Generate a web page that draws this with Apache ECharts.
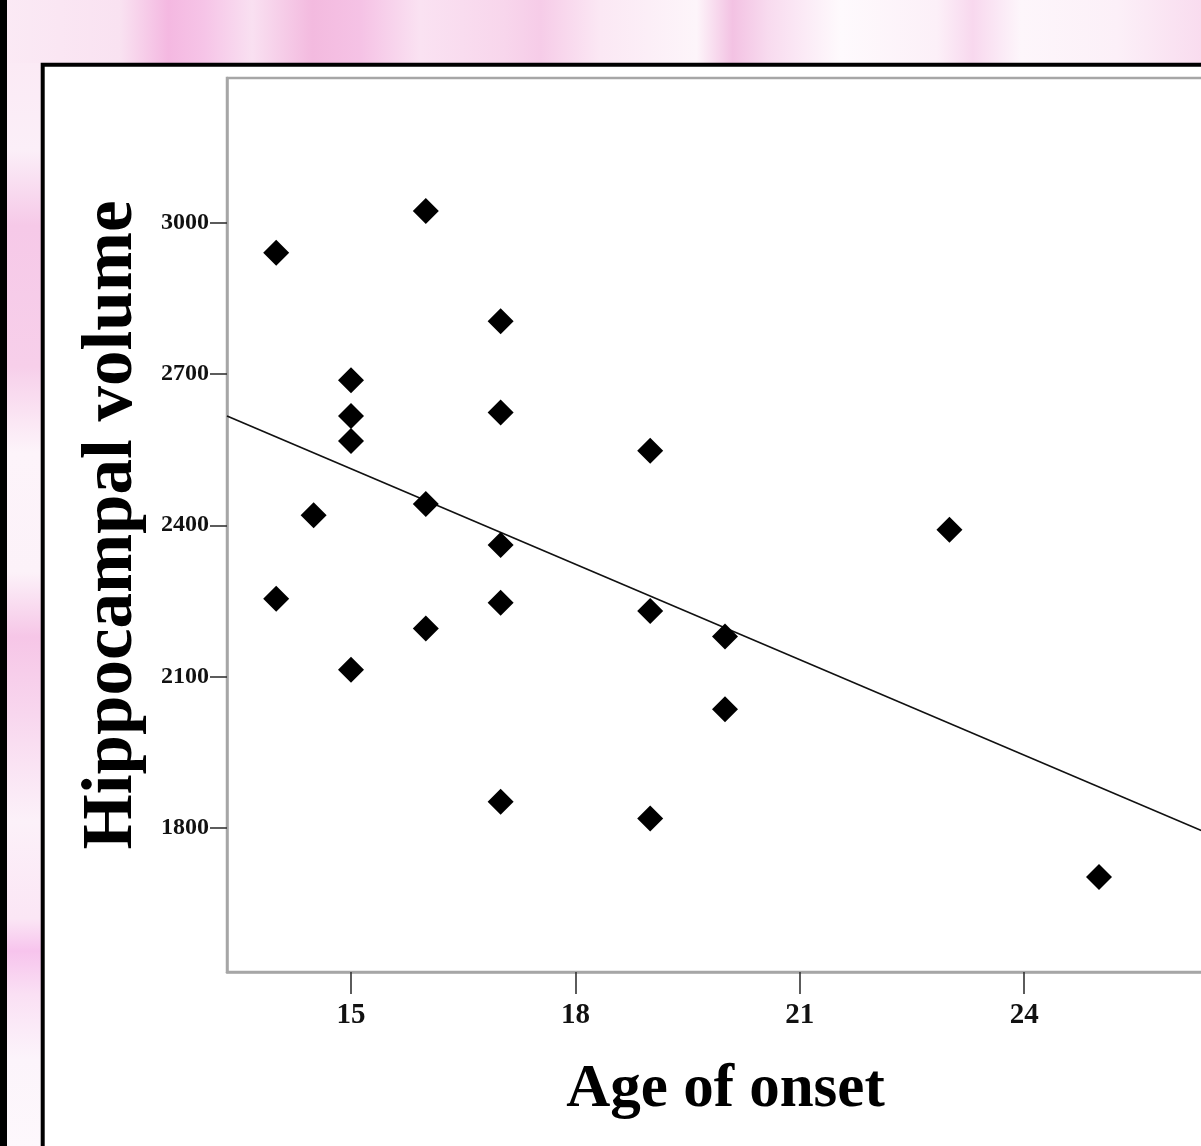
<!DOCTYPE html>
<html>
<head>
<meta charset="utf-8">
<script src="https://cdn.jsdelivr.net/npm/echarts@6/dist/echarts.min.js"></script>
<style>
  html, body { margin: 0; padding: 0; background: #fff; }
  #chart { width: 1201px; height: 1146px; }
</style>
</head>
<body>
<div id="chart"></div>
<script>
// ---- data ----
const ageOnset = [14, 16, 17, 15, 15, 15, 17, 19, 14.5, 16, 17, 23, 14, 17, 16, 19, 20, 15, 20, 17, 19, 25];
const hippoVolume = [2941, 3024, 2805, 2688, 2617, 2567, 2624, 2548, 2420, 2442, 2361, 2391, 2254, 2246, 2195, 2230, 2179, 2113, 2035, 1851, 1818, 1702];
// fitted regression line (end points at the axis limits)
const fitX = [13.342, 26.671];
const fitY = [2617, 1775];
// axis ticks
const xTicks = [15, 18, 21, 24];
const yTicks = [1800, 2100, 2400, 2700, 3000];
const xRange = [13.342, 26.671];
const yRange = [1513.2, 3287.8];
const xTitle = 'Age of onset';
const yTitle = 'Hippocampal volume';

const points = ageOnset.map((a, i) => [a, hippoVolume[i]]);
const fitLine = fitX.map((x, i) => [x, fitY[i]]);

const serif = '"Liberation Serif", "Times New Roman", serif';
const chart = echarts.init(document.getElementById('chart'), null, { renderer: 'canvas' });

const pinkBand = {
  type: 'linear', x: 0, y: 0, x2: 1, y2: 0,
  colorStops: [
    { offset: 0.00, color: '#fbeaf5' },
    { offset: 0.10, color: '#f9e2f1' },
    { offset: 0.14, color: '#f4b8e1' },
    { offset: 0.17, color: '#f6c4e7' },
    { offset: 0.21, color: '#f9e0f1' },
    { offset: 0.26, color: '#f3badf' },
    { offset: 0.30, color: '#f5c2e5' },
    { offset: 0.35, color: '#fae2f2' },
    { offset: 0.42, color: '#f8d6ec' },
    { offset: 0.45, color: '#f6cce8' },
    { offset: 0.50, color: '#fbe8f4' },
    { offset: 0.58, color: '#fdf5fa' },
    { offset: 0.61, color: '#f3c2e3' },
    { offset: 0.64, color: '#f8dbef' },
    { offset: 0.70, color: '#fefafd' },
    { offset: 0.78, color: '#fcf0f8' },
    { offset: 0.81, color: '#f8d8ee' },
    { offset: 0.85, color: '#fdf6fb' },
    { offset: 0.93, color: '#fcf0f8' },
    { offset: 1.00, color: '#f9dcef' }
  ]
};
const pinkStrip = {
  type: 'linear', x: 0, y: 0, x2: 0, y2: 1,
  colorStops: [
    { offset: 0.00, color: '#fbeaf5' },
    { offset: 0.08, color: '#fbeff8' },
    { offset: 0.15, color: '#f6c9e8' },
    { offset: 0.28, color: '#f7cfea' },
    { offset: 0.36, color: '#fdf4fa' },
    { offset: 0.47, color: '#fcf2f9' },
    { offset: 0.53, color: '#f6c6e7' },
    { offset: 0.60, color: '#f8d6ee' },
    { offset: 0.70, color: '#fcf1f9' },
    { offset: 0.79, color: '#fbe6f5' },
    { offset: 0.82, color: '#f7c4ed' },
    { offset: 0.86, color: '#fae0f4' },
    { offset: 0.92, color: '#fcf4fb' },
    { offset: 1.00, color: '#fdf8fc' }
  ]
};

chart.setOption({
  animation: false,
  backgroundColor: 'transparent',
  graphic: [
    { type: 'rect', z: -100, shape: { x: 0, y: 0, width: 1201, height: 1146 }, style: { fill: pinkBand } },
    { type: 'rect', z: -99, shape: { x: 7, y: 63, width: 34, height: 1083 }, style: { fill: pinkStrip } },
    { type: 'rect', z: -98, shape: { x: 0, y: 0, width: 7, height: 1146 }, style: { fill: '#000' } },
    { type: 'rect', z: -97, shape: { x: 42.7, y: 64.8, width: 1300, height: 1300 }, style: { fill: '#fff', stroke: '#000', lineWidth: 4 } }
  ],
  grid: {
    left: 227, top: 78, width: 997, height: 894,
    outerBoundsMode: 'none', containLabel: false,
    show: true, borderColor: '#a6a6a6', borderWidth: 2.5, backgroundColor: 'transparent'
  },
  xAxis: {
    type: 'value', min: xRange[0], max: xRange[1],
    name: xTitle, nameLocation: 'middle', nameGap: 88,
    nameTextStyle: { fontFamily: serif, fontWeight: 'bold', fontSize: 61, color: '#000' },
    axisLine: { show: true, lineStyle: { color: '#a6a6a6', width: 2.5 } },
    axisTick: { show: true, inside: false, length: 22, customValues: xTicks, lineStyle: { color: '#333', width: 1.6 } },
    axisLabel: { customValues: xTicks, margin: 29, fontFamily: serif, fontWeight: 'bold', fontSize: 29, color: '#111', formatter: v => String(v) },
    splitLine: { show: false }
  },
  yAxis: {
    type: 'value', min: yRange[0], max: yRange[1],
    name: yTitle, nameLocation: 'middle', nameGap: 79, nameRotate: 90,
    nameTextStyle: { fontFamily: serif, fontWeight: 'bold', fontSize: 71, color: '#000' },
    axisLine: { show: true, lineStyle: { color: '#a6a6a6', width: 2.5 } },
    axisTick: { show: true, inside: false, length: 17, customValues: yTicks, lineStyle: { color: '#333', width: 1.6 } },
    axisLabel: { customValues: yTicks, margin: 18, fontFamily: serif, fontWeight: 'bold', fontSize: 24, color: '#111', formatter: v => String(v) },
    splitLine: { show: false }
  },
  series: [
    {
      type: 'line', data: fitLine, showSymbol: false, symbol: 'none',
      lineStyle: { color: '#111', width: 1.7 }, z: 2, silent: true
    },
    {
      type: 'scatter', data: points, symbol: 'diamond', symbolSize: 26,
      itemStyle: { color: '#000', opacity: 1 }, z: 3
    }
  ]
});
</script>
</body>
</html>
